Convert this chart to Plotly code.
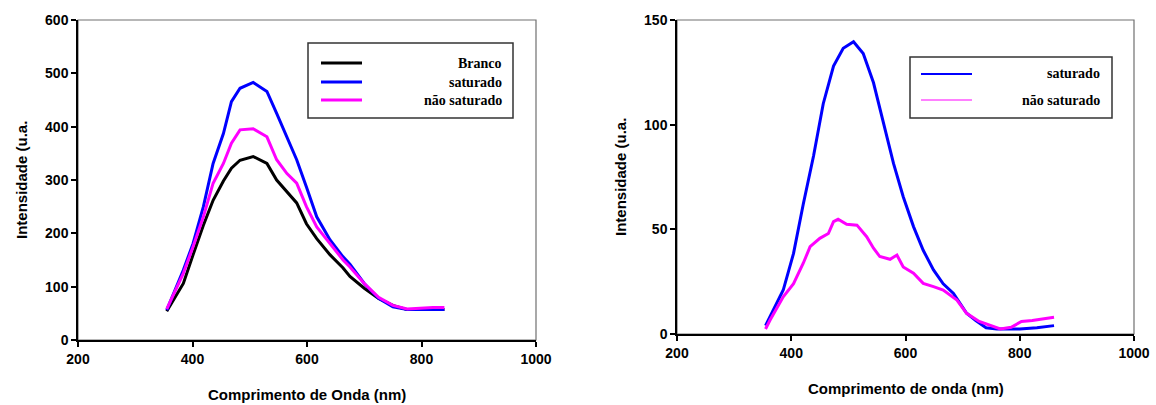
import plotly.graph_objects as go

# ---------------- data (left panel) ----------------
left_x = [355, 384, 401, 419, 436, 454, 468, 483, 506, 530, 547, 565, 582, 599, 617, 640, 663, 675, 700, 725, 750, 775, 800, 820, 840]
branco = [54, 106, 160, 215, 262, 298, 322, 337, 344, 331, 300, 278, 257, 218, 190, 160, 135, 119, 97, 78, 65, 57, 57, 57, 57]
saturado_l = [56, 131, 181, 250, 331, 387, 447, 472, 483, 466, 425, 381, 338, 287, 231, 188, 156, 142, 106, 78, 62, 57, 57, 57, 57]
nao_sat_l = [58, 125, 175, 231, 294, 331, 369, 394, 396, 381, 338, 312, 294, 250, 212, 181, 150, 137, 106, 80, 65, 58, 60, 61, 61]

# ---------------- data (right panel) ----------------
right_x_sat = [355, 363, 386, 404, 421, 439, 456, 474, 491, 509, 526, 544, 561, 579, 596, 614, 631, 649, 666, 684, 707, 723, 741, 760, 780, 800, 830, 860]
saturado_r = [4, 8.3, 21, 38.5, 62, 85, 110, 128, 136.5, 139.6, 134, 120, 100.6, 81.5, 65.6, 51.3, 40, 30.6, 24, 19.4, 9.9, 6.4, 3, 2.4, 2.4, 2.4, 3, 4]
right_x_nsat = [355, 363, 386, 404, 421, 433, 450, 465, 474, 482, 497, 515, 532, 544, 555, 573, 585, 596, 614, 631, 649, 666, 690, 707, 729, 747, 766, 785, 803, 822, 841, 860]
nao_sat_r = [2.4, 6.7, 17.8, 24, 33.8, 41.7, 45.7, 48, 53.7, 54.8, 52.4, 52, 46.5, 41, 37, 35.7, 37.7, 32, 29, 24.2, 22.6, 21, 16.2, 9.9, 6, 4.3, 2.4, 3.2, 6, 6.4, 7.2, 8]

left_legend = ["Branco", "saturado", "não saturado"]
right_legend = ["saturado", "não saturado"]
x_ticks = [200, 400, 600, 800, 1000]
y_ticks_left = [0, 100, 200, 300, 400, 500, 600]
y_ticks_right = [0, 50, 100, 150]

BLACK = "#000000"
BLUE = "#0000ff"
MAGENTA = "#ff00ff"
PINK_LIGHT = "#ff80ff"

W, H = 1156, 405

def px(x):
    return x / W

def py(y):
    return 1 - y / H

fig = go.Figure()

lw = 3
fig.add_trace(go.Scatter(x=left_x, y=branco, mode="lines", line=dict(color=BLACK, width=lw), xaxis="x", yaxis="y"))
fig.add_trace(go.Scatter(x=left_x, y=saturado_l, mode="lines", line=dict(color=BLUE, width=lw), xaxis="x", yaxis="y"))
fig.add_trace(go.Scatter(x=left_x, y=nao_sat_l, mode="lines", line=dict(color=MAGENTA, width=lw), xaxis="x", yaxis="y"))

fig.add_trace(go.Scatter(x=right_x_sat, y=saturado_r, mode="lines", line=dict(color=BLUE, width=lw), xaxis="x2", yaxis="y2"))
fig.add_trace(go.Scatter(x=right_x_nsat, y=nao_sat_r, mode="lines", line=dict(color=MAGENTA, width=lw), xaxis="x2", yaxis="y2"))

tick_font = dict(family="Liberation Sans, Arial", size=14, color="black", weight="bold")
axis_common = dict(showline=True, linecolor="black", linewidth=1.5, ticks="outside", ticklen=5,
                   tickwidth=1.5, tickcolor="black", showgrid=False, zeroline=False,
                   tickfont=tick_font, automargin=False)

fig.update_layout(
    width=W, height=H,
    margin=dict(l=0, r=0, t=0, b=0, pad=0, autoexpand=False),
    paper_bgcolor="white", plot_bgcolor="white",
    showlegend=False,
    xaxis=dict(domain=[px(78), px(536)], range=[200, 1000], tickvals=x_ticks, anchor="y", **axis_common),
    yaxis=dict(domain=[py(340), py(20)], range=[0, 600], tickvals=y_ticks_left, anchor="x", **axis_common),
    xaxis2=dict(domain=[px(677), px(1134)], range=[200, 1000], tickvals=x_ticks, anchor="y2", **axis_common),
    yaxis2=dict(domain=[py(334), py(20)], range=[0, 150], tickvals=y_ticks_right, anchor="x2", **axis_common),
)

shapes = []
annotations = []

# gray frame (top/right borders)
for xr, yr in [("x", "y"), ("x2", "y2")]:
    shapes.append(dict(type="rect", xref=f"{xr} domain", yref=f"{yr} domain", x0=0, x1=1, y0=0, y1=1,
                       line=dict(color="#707070", width=1.2), layer="below"))

# axis titles
title_font = dict(family="Liberation Sans, Arial", size=15, color="black", weight="bold")
annotations.append(dict(text="Intensidade (u.a.", x=px(21), y=py(180), xref="paper", yref="paper",
                        textangle=-90, showarrow=False, font=title_font, xanchor="center", yanchor="middle"))
annotations.append(dict(text="Comprimento de Onda (nm)", x=px(307), y=py(394), xref="paper", yref="paper",
                        showarrow=False, font=title_font, xanchor="center", yanchor="middle"))
annotations.append(dict(text="Intensidade (u.a.", x=px(620), y=py(177), xref="paper", yref="paper",
                        textangle=-90, showarrow=False, font=title_font, xanchor="center", yanchor="middle"))
annotations.append(dict(text="Comprimento de onda (nm)", x=px(906), y=py(388), xref="paper", yref="paper",
                        showarrow=False, font=title_font, xanchor="center", yanchor="middle"))

# custom legends
leg_font = dict(family="Liberation Serif, Times New Roman", size=14, color="black", weight="bold")

shapes.append(dict(type="rect", xref="paper", yref="paper", x0=px(308), x1=px(513), y0=py(118), y1=py(43),
                   line=dict(color="#333333", width=1.5), fillcolor="white"))
for name, col, yy in zip(left_legend, [BLACK, BLUE, MAGENTA], [63, 82, 100]):
    shapes.append(dict(type="line", xref="paper", yref="paper", x0=px(321), x1=px(362), y0=py(yy), y1=py(yy),
                       line=dict(color=col, width=3)))
    annotations.append(dict(text=name, x=px(504), y=py(yy), xref="paper", yref="paper", showarrow=False,
                            xanchor="right", yanchor="middle", font=leg_font))

shapes.append(dict(type="rect", xref="paper", yref="paper", x0=px(910), x1=px(1112), y0=py(118), y1=py(57),
                   line=dict(color="#333333", width=1.5), fillcolor="white"))
for name, col, yy in zip(right_legend, [BLUE, PINK_LIGHT], [74, 100]):
    shapes.append(dict(type="line", xref="paper", yref="paper", x0=px(921), x1=px(972), y0=py(yy), y1=py(yy),
                       line=dict(color=col, width=2)))
    annotations.append(dict(text=name, x=px(1102), y=py(yy), xref="paper", yref="paper", showarrow=False,
                            xanchor="right", yanchor="middle", font=leg_font))

fig.update_layout(shapes=shapes, annotations=annotations)

fig.write_html(
    "out.html",
    config={"displayModeBar": False},
    post_script="document.body.style.margin='0';document.body.style.padding='0';document.body.style.overflow='hidden';",
)
